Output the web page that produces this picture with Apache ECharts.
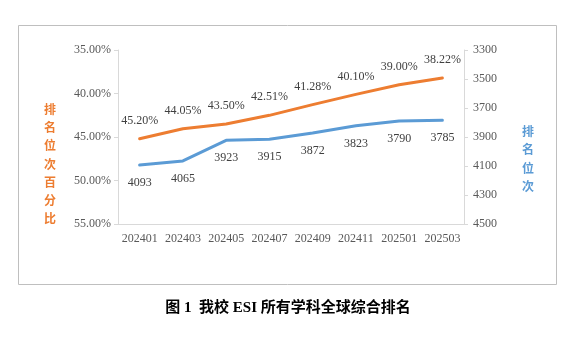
<!DOCTYPE html>
<html>
<head>
<meta charset="utf-8">
<script src="https://cdn.jsdelivr.net/npm/echarts@6/dist/echarts.min.js"></script>
<style>
  html, body { margin: 0; padding: 0; background: #fff; }
  #chart { width: 583px; height: 345px; }
</style>
</head>
<body>
<div id="chart"></div>
<script>
// Reporting periods (year + month)
const periods = ['202401', '202403', '202405', '202407', '202409', '202411', '202501', '202503'];
// Rank percentile, in percent (lower is better)
const rankPercent = [45.20, 44.05, 43.50, 42.51, 41.28, 40.10, 39.00, 38.22];
// Absolute global rank
const rankPosition = [4093, 4065, 3923, 3915, 3872, 3823, 3790, 3785];

const leftTitle = '排名位次百分比';
const rightTitle = '排名位次';
const caption = '图 1  我校 ESI 所有学科全球综合排名';

const ORANGE = '#ED7D31';
const BLUE = '#5B9BD5';
const AXIS_GRAY = '#d9d9d9';
const LABEL_GRAY = '#595959';
const SERIF = "'Liberation Serif', 'Times New Roman', serif";
const CJK = "'Noto Sans CJK SC', sans-serif";

const chart = echarts.init(document.getElementById('chart'), null, { renderer: 'canvas' });

const axisCommon = {
  axisLine: { show: true, lineStyle: { color: AXIS_GRAY, width: 1 } },
  axisTick: { show: true, length: 4, lineStyle: { color: AXIS_GRAY } },
  splitLine: { show: false },
  axisLabel: { color: LABEL_GRAY, fontFamily: SERIF, fontSize: 12 }
};

const lineSeries = (name, axisIndex, data, color, pos, fmt) => ({
  name: name,
  type: 'line',
  yAxisIndex: axisIndex,
  data: data,
  showSymbol: true,
  symbol: 'circle',
  symbolSize: 2,
  itemStyle: { color: 'rgba(0,0,0,0)', borderWidth: 0 },
  lineStyle: { color: color, width: 3, cap: 'round' },
  label: {
    show: true,
    position: pos,
    distance: 11,
    color: '#404040',
    fontFamily: SERIF,
    fontSize: 12,
    formatter: fmt
  }
});

chart.setOption({
  animation: false,
  backgroundColor: '#fff',
  grid: { left: 118, right: 119, top: 50, bottom: 121 },
  xAxis: {
    type: 'category',
    data: periods,
    boundaryGap: true,
    axisLine: { lineStyle: { color: AXIS_GRAY } },
    axisTick: { interval: 0, length: 4, lineStyle: { color: AXIS_GRAY } },
    axisLabel: { interval: 0, color: LABEL_GRAY, fontFamily: SERIF, fontSize: 12, margin: 9 }
  },
  yAxis: [
    Object.assign({}, axisCommon, {
      type: 'value',
      position: 'left',
      inverse: true,
      min: 35, max: 55, interval: 5,
      axisLabel: Object.assign({}, axisCommon.axisLabel, {
        margin: 7,
        formatter: v => v.toFixed(2) + '%'
      })
    }),
    Object.assign({}, axisCommon, {
      type: 'value',
      position: 'right',
      inverse: true,
      min: 3300, max: 4500, interval: 200,
      axisLabel: Object.assign({}, axisCommon.axisLabel, {
        margin: 9,
        formatter: v => String(v)
      })
    })
  ],
  series: [
    lineSeries(leftTitle, 0, rankPercent, ORANGE, 'top', p => p.value.toFixed(2) + '%'),
    lineSeries(rightTitle, 1, rankPosition, BLUE, 'bottom', p => String(p.value))
  ],
  graphic: [
    {
      type: 'rect',
      shape: { x: 18.5, y: 25.5, width: 538, height: 259 },
      style: { fill: 'none', stroke: '#bfbfbf', lineWidth: 1 },
      silent: true
    },
    {
      type: 'text',
      x: 50, y: 164,
      style: {
        text: leftTitle.split('').join('\n'),
        fill: ORANGE,
        font: 'bold 12px ' + CJK,
        lineHeight: 18.3,
        align: 'center',
        verticalAlign: 'middle'
      }
    },
    {
      type: 'text',
      x: 528, y: 159,
      style: {
        text: rightTitle.split('').join('\n'),
        fill: BLUE,
        font: 'bold 12px ' + CJK,
        lineHeight: 18.5,
        align: 'center',
        verticalAlign: 'middle'
      }
    },
    {
      type: 'text',
      x: 288, y: 308,
      style: {
        text: caption,
        fill: '#000',
        font: "bold 15px 'Liberation Serif', " + CJK,
        align: 'center',
        verticalAlign: 'middle'
      }
    }
  ]
});
</script>
</body>
</html>
